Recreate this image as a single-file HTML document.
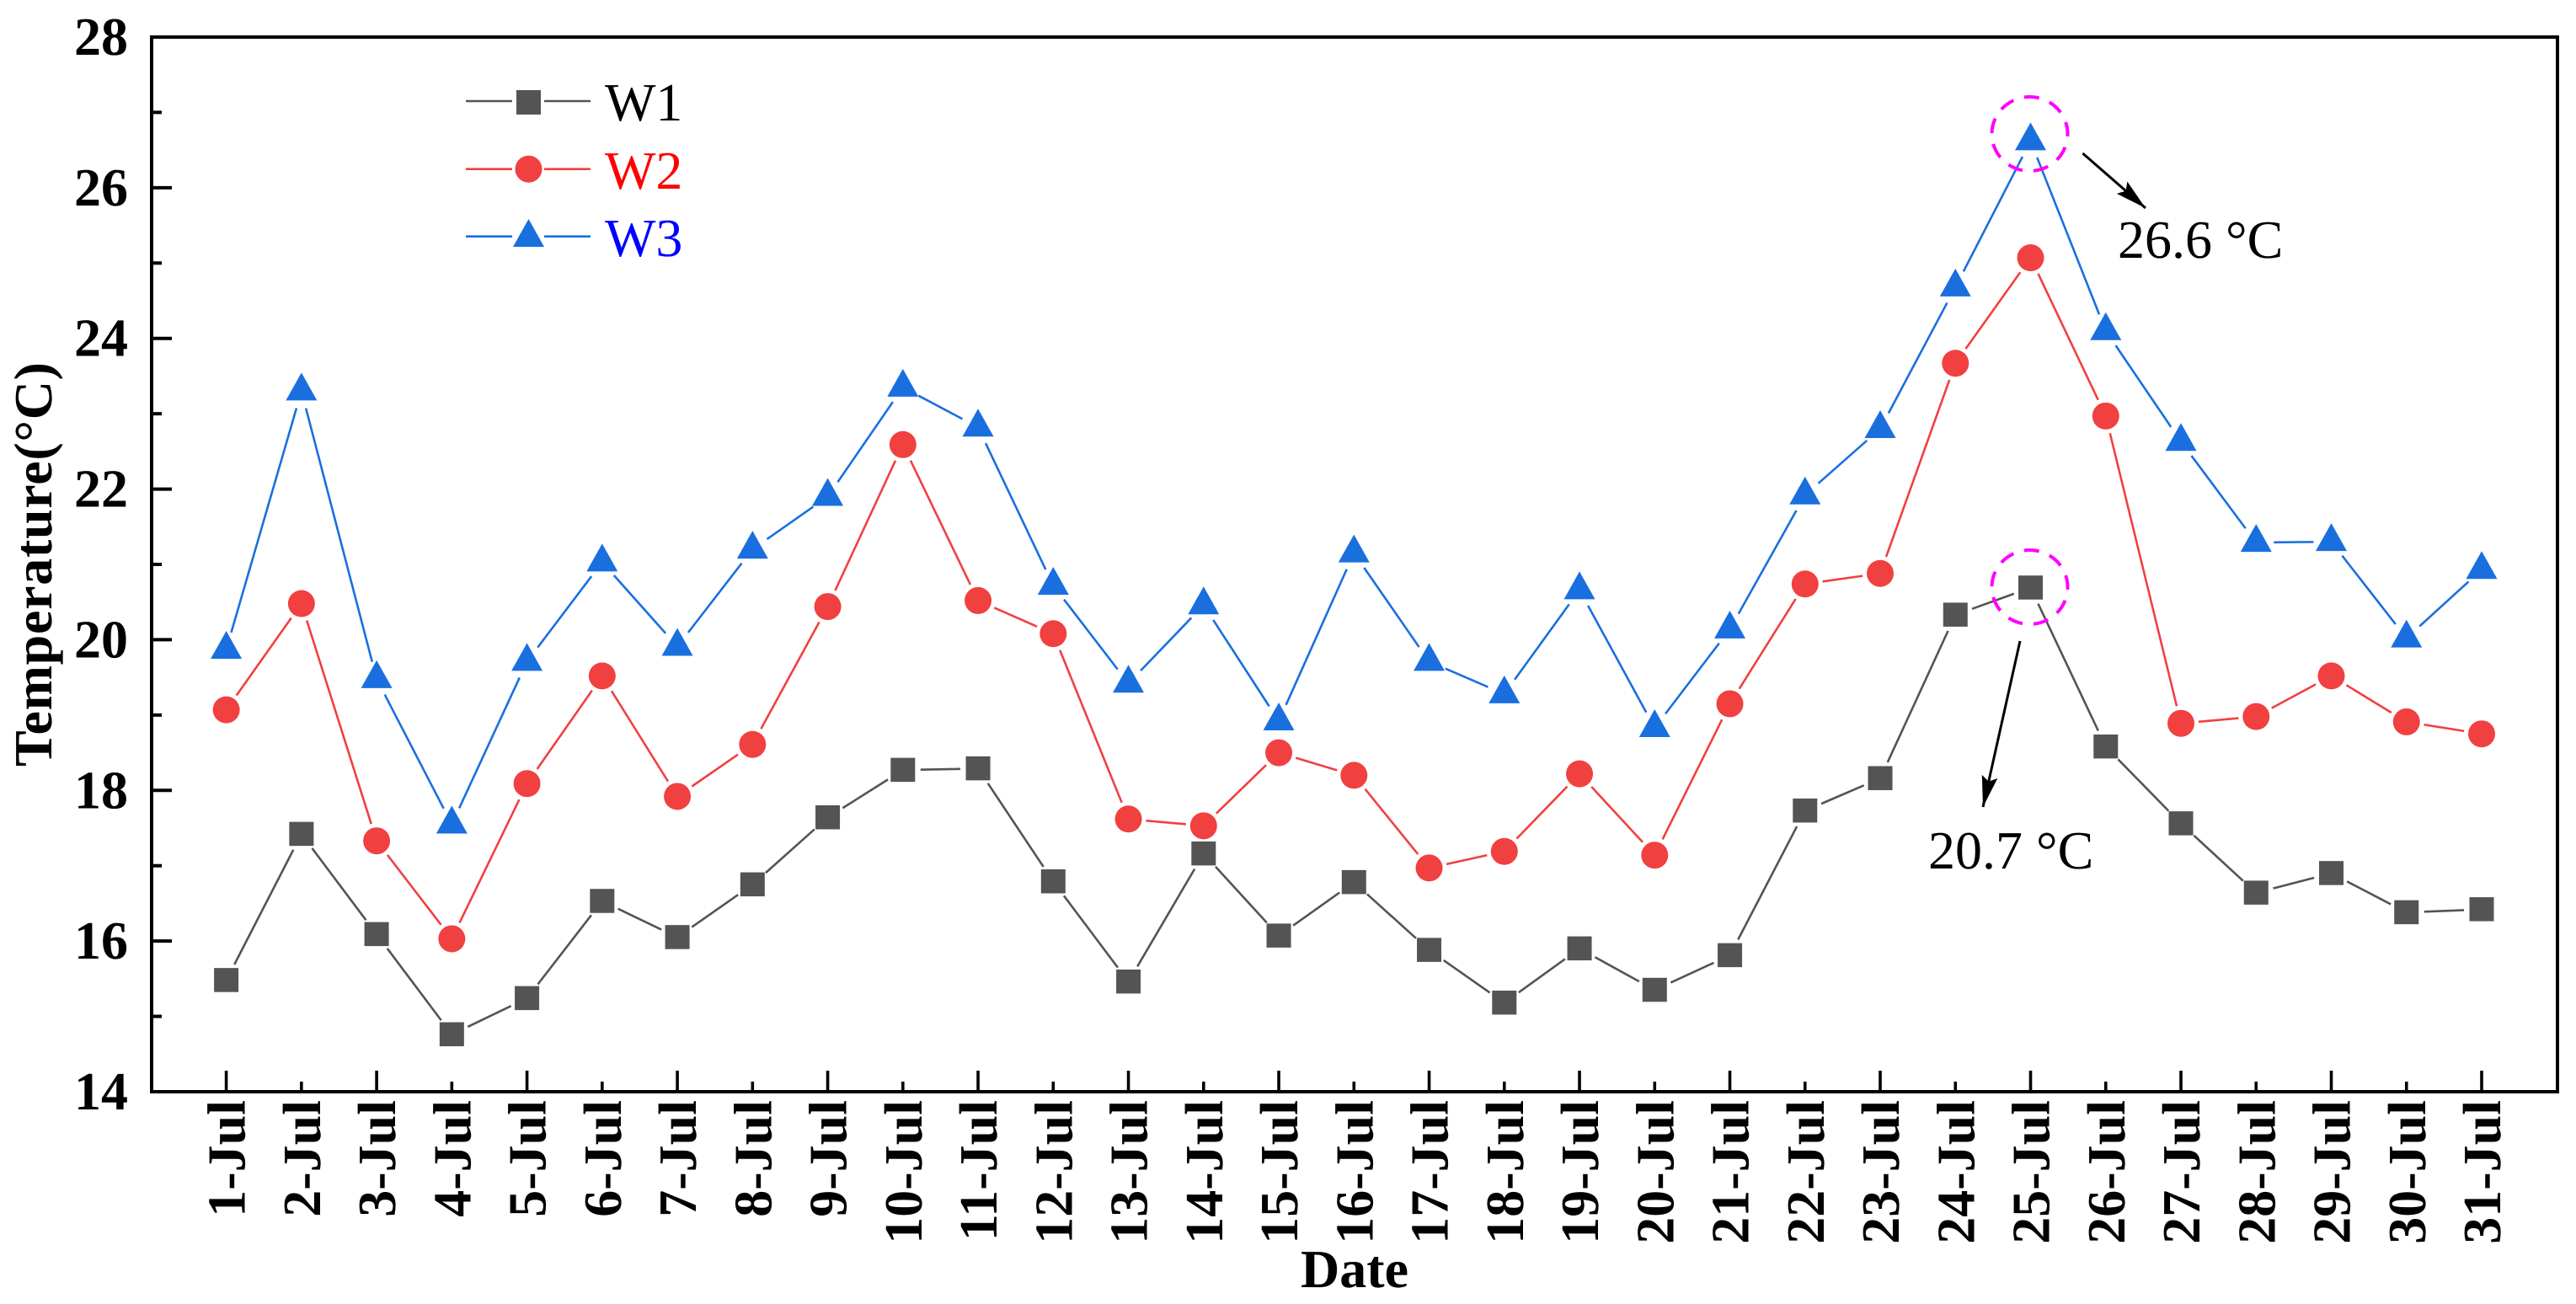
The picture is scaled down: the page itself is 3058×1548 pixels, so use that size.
<!DOCTYPE html>
<html lang="en">
<head>
<meta charset="utf-8">
<title>Temperature by date</title>
<style>
html,body{margin:0;padding:0;background:#fff;}
svg{display:block;}
text{font-family:"Liberation Serif","Noto Serif CJK SC",serif;text-rendering:geometricPrecision;}
</style>
</head>
<body>
<svg id="chart" xmlns="http://www.w3.org/2000/svg" width="3058" height="1548" viewBox="0 0 3058 1548">
  <defs>
    <marker id="arrow-head" markerUnits="userSpaceOnUse" markerWidth="40" markerHeight="20" refX="37" refY="9.5" orient="auto">
      <path d="M0 0 L37 9.5 L0 19 L6 9.5 Z" fill="#000"></path>
    </marker>
  </defs>
  <rect x="0" y="0" width="3058" height="1548" fill="#fff"></rect>
  <g id="marks"></g>
  <g id="axes"></g>
  <rect x="180" y="44" width="2856" height="1252" fill="none" stroke="#000" stroke-width="4"></rect>
  <text x="1608" y="1528" font-size="64" font-weight="bold" text-anchor="middle">Date</text>
  <text transform="translate(61 910) rotate(-90)" font-size="64" font-weight="bold" textLength="480" lengthAdjust="spacing">Temperature(°C)</text>

  <g>
    <g>
      <line x1="553" y1="120" x2="608" y2="120" stroke="#545454" stroke-width="2.6"></line>
      <line x1="646" y1="120" x2="701" y2="120" stroke="#545454" stroke-width="2.6"></line>
      <rect x="613" y="107" width="29" height="29" fill="#545454"></rect>
      <text x="718" y="143" font-size="64" fill="#000">W1</text>
    </g>
    <g>
      <line x1="553" y1="200.7" x2="608" y2="200.7" stroke="#F14040" stroke-width="2.6"></line>
      <line x1="646" y1="200.7" x2="701" y2="200.7" stroke="#F14040" stroke-width="2.6"></line>
      <circle cx="627.5" cy="200.7" r="16" fill="#F14040"></circle>
      <text x="718" y="224" font-size="64" fill="#f00">W2</text>
    </g>
    <g>
      <line x1="553" y1="280.7" x2="608" y2="280.7" stroke="#1A6FDF" stroke-width="2.6"></line>
      <line x1="646" y1="280.7" x2="701" y2="280.7" stroke="#1A6FDF" stroke-width="2.6"></line>
      <path d="M627.5 260 L646 293 L609 293 Z" fill="#1A6FDF"></path>
      <text x="718" y="304" font-size="64" fill="#00f">W3</text>
    </g>
  </g>

  <g>
    <ellipse cx="2409.5" cy="159" rx="45" ry="44" fill="none" stroke="#f0f" stroke-width="4" stroke-dasharray="18 13.1" stroke-dashoffset="15"></ellipse>
    <line x1="2472.4" y1="182" x2="2547" y2="247" stroke="#000" stroke-width="3" marker-end="url(#arrow-head)"></line>
    <text x="2514" y="306" font-size="64" fill="#000">26.6 °C</text>
  </g>
  <g>
    <ellipse cx="2409.5" cy="697" rx="45" ry="44" fill="none" stroke="#f0f" stroke-width="4" stroke-dasharray="18 13.1" stroke-dashoffset="15"></ellipse>
    <line x1="2398" y1="761" x2="2354" y2="958" stroke="#000" stroke-width="3" marker-end="url(#arrow-head)"></line>
    <text x="2289" y="1031" font-size="64" fill="#000">20.7 °C</text>
  </g>
</svg>
<script>
const categories = ["1-Jul","2-Jul","3-Jul","4-Jul","5-Jul","6-Jul","7-Jul","8-Jul","9-Jul","10-Jul","11-Jul","12-Jul","13-Jul","14-Jul","15-Jul","16-Jul","17-Jul","18-Jul","19-Jul","20-Jul","21-Jul","22-Jul","23-Jul","24-Jul","25-Jul","26-Jul","27-Jul","28-Jul","29-Jul","30-Jul","31-Jul"];
const w1Values = [15.48,17.42,16.09,14.76,15.24,16.53,16.05,16.75,17.64,18.27,18.29,16.79,15.46,17.16,16.07,16.78,15.88,15.18,15.9,15.35,15.81,17.73,18.16,20.33,20.69,18.58,17.56,16.64,16.9,16.38,16.42];
const w2Values = [19.07,20.48,17.33,16.03,18.09,19.52,17.92,18.61,20.44,22.59,20.52,20.08,17.62,17.53,18.5,18.2,16.97,17.19,18.22,17.14,19.15,20.74,20.88,23.67,25.07,22.97,18.89,18.98,19.52,18.91,18.75];
const w3Values = [19.87,23.3,19.48,17.55,19.71,21.03,19.91,21.2,21.9,23.35,22.82,20.72,19.42,20.46,18.92,21.15,19.71,19.28,20.66,18.83,20.14,21.92,22.8,24.68,26.62,24.1,22.63,21.29,21.3,20.02,20.93];
const yTickLabels = [14,16,18,20,22,24,26,28];
const yMinorTicks = [15,17,19,21,23,25,27];

const NS = "http://www.w3.org/2000/svg";
const marksLayer = document.getElementById("marks");
const axesLayer = document.getElementById("axes");

function xScale(i) { return 268.6 + (2946 - 268.6) * i / (categories.length - 1); }
function yScale(v) { return 1296 - (v - 14) * (1296 - 44) / (28 - 14); }

function make(tag, attrs, parent) {
  const el = document.createElementNS(NS, tag);
  for (const k in attrs) el.setAttribute(k, attrs[k]);
  parent.appendChild(el);
  return el;
}

// y axis
yTickLabels.forEach(function (v) {
  const tick = make("line", {x1: 180, x2: 204, y1: yScale(v), y2: yScale(v), stroke: "#000", "stroke-width": 4}, axesLayer);
  
  
  const label = make("text", {x: 152, y: yScale(v) + 21, "font-size": 64, "font-weight": "bold", "text-anchor": "end"}, axesLayer);
  label.textContent = String(v);
  
  
});
yMinorTicks.forEach(function (v) {
  const tick = make("line", {x1: 180, x2: 192, y1: yScale(v), y2: yScale(v), stroke: "#000", "stroke-width": 4}, axesLayer);
  
  
});

// x axis
categories.forEach(function (c, i) {
  const x = xScale(i);
  const tick = make("line", {x1: x, x2: x, y1: 1296, y2: i % 2 === 0 ? 1271 : 1284, stroke: "#000", "stroke-width": 3.6}, axesLayer);
  
  
  const label = make("text", {transform: "translate(" + (x + 22) + " 1306) rotate(-90)", "font-size": 64, "font-weight": "bold", "text-anchor": "end"}, axesLayer);
  label.textContent = c;
  
  
});

function drawSeries(values, color, shape, seriesName) {
  const group = make("g", {}, marksLayer);
  
  
  const gap = 21;
  for (let i = 0; i < values.length - 1; i++) {
    const x0 = xScale(i), y0 = yScale(values[i]), x1 = xScale(i + 1), y1 = yScale(values[i + 1]);
    const d = Math.hypot(x1 - x0, y1 - y0);
    if (d <= 2 * gap) continue;
    const ux = (x1 - x0) / d, uy = (y1 - y0) / d;
    const seg = make("line", {x1: x0 + ux * gap, y1: y0 + uy * gap, x2: x1 - ux * gap, y2: y1 - uy * gap, stroke: color, "stroke-width": 2.6}, group);
    
    
  }
  values.forEach(function (v, i) {
    const cx = xScale(i), cy = yScale(v);
    let mark;
    if (shape === "square") {
      mark = make("rect", {x: cx - 14.5, y: cy - 14.5, width: 29, height: 28.5, fill: color}, group);
    } else if (shape === "circle") {
      mark = make("circle", {cx: cx, cy: cy, r: 16, fill: color}, group);
    } else {
      mark = make("path", {d: "M" + cx + " " + (cy - 22) + " L" + (cx + 18.5) + " " + (cy + 11) + " L" + (cx - 18.5) + " " + (cy + 11) + " Z", fill: color}, group);
    }
    
    
  });
}

drawSeries(w1Values, "#545454", "square", "series-w1");
drawSeries(w2Values, "#F14040", "circle", "series-w2");
drawSeries(w3Values, "#1A6FDF", "triangle", "series-w3");
</script>
</body>
</html>
